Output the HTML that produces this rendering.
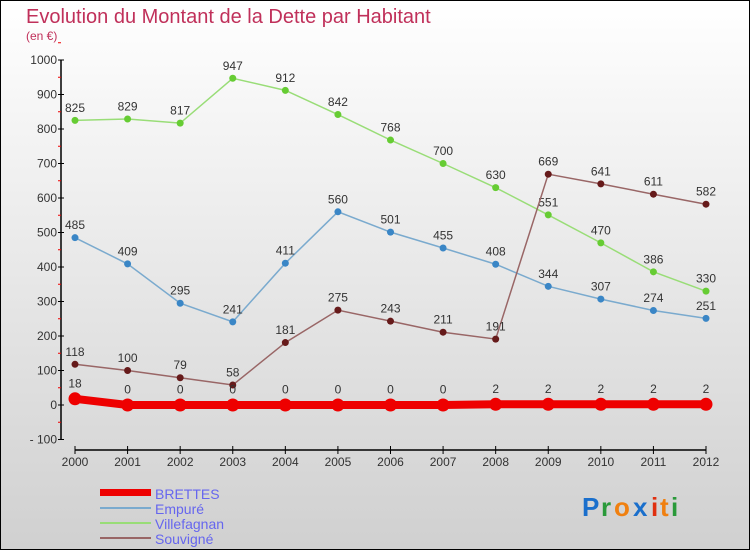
<!DOCTYPE html>
<html><head><meta charset="utf-8"><style>
body{margin:0;}
#c{width:750px;height:550px;position:relative;overflow:hidden;}
svg text{font-family:"Liberation Sans",sans-serif;}
</style></head><body>
<div id="c">
<svg id="s" width="750" height="550" xmlns="http://www.w3.org/2000/svg">
<defs><linearGradient id="bg" x1="0" y1="0" x2="0" y2="1"><stop offset="0" stop-color="#ffffff"/><stop offset="1" stop-color="#d0d0d0"/></linearGradient></defs>
<rect x="0.5" y="0.5" width="749" height="549" fill="url(#bg)" stroke="#000"/>
<text x="26" y="23" font-size="20" fill="#c0305a">Evolution du Montant de la Dette par Habitant</text>
<text x="26" y="40" font-size="12" fill="#c0305a">(en €)</text>
<g id="axes"></g>
<g id="series"></g>
<g>
<rect x="100" y="489" width="51" height="7" fill="#ee0000"/>
<text x="155" y="499" font-size="14" fill="#6666ee">BRETTES</text>
<line x1="100" y1="508" x2="151" y2="508" stroke="#7aaace" stroke-width="2"/>
<text x="155" y="514" font-size="14" fill="#6666ee">Empuré</text>
<line x1="100" y1="523" x2="151" y2="523" stroke="#99dd77" stroke-width="2"/>
<text x="155" y="529" font-size="14" fill="#6666ee">Villefagnan</text>
<line x1="100" y1="538" x2="151" y2="538" stroke="#996666" stroke-width="2"/>
<text x="155" y="544" font-size="14" fill="#6666ee">Souvigné</text>
</g>
<g font-size="26" font-weight="bold">
<text x="582" y="516" fill="#1a6fcc">P</text><text x="601" y="516" fill="#2a9a3a">r</text><text x="614" y="516" fill="#f08010">o</text><text x="633" y="516" fill="#1a6fcc">x</text><text x="651" y="516" fill="#e03010">i</text><text x="660" y="516" fill="#f08010">t</text><text x="671" y="516" fill="#2a9a3a">i</text>
</g>
</svg>
</div>
<script>
const years=[2000,2001,2002,2003,2004,2005,2006,2007,2008,2009,2010,2011,2012];
const yTicks=[-100,0,100,200,300,400,500,600,700,800,900,1000];
const brettes=[18,0,0,0,0,0,0,0,2,2,2,2,2];
const empure=[485,409,295,241,411,560,501,455,408,344,307,274,251];
const villefagnan=[825,829,817,947,912,842,768,700,630,551,470,386,330];
const souvigne=[118,100,79,58,181,275,243,211,191,669,641,611,582];
const NS="http://www.w3.org/2000/svg";
function X(i){return 75+i*(706-75)/(years.length-1);}
function Y(v){return 405-v*0.345;}
function mk(p,t,a){const e=document.createElementNS(NS,t);for(const k in a)e.setAttribute(k,a[k]);p.appendChild(e);return e;}
const ax=document.getElementById('axes');
let l=mk(ax,'line',{x1:61,y1:Y(1000),x2:61,y2:Y(-100),stroke:'#000','stroke-width':1.5});


yTicks.forEach(v=>{
 mk(ax,'line',{x1:58,y1:Y(v),x2:64,y2:Y(v),stroke:'#000'});
 mk(ax,'line',{x1:58,y1:Y(v+50),x2:61,y2:Y(v+50),stroke:'#e00'});
 const t=mk(ax,'text',{x:57,y:Y(v)+4,'font-size':12,fill:'#333','text-anchor':'end'});
 t.textContent=v<0?'- '+(-v):v;
 
 
});
l=mk(ax,'line',{x1:75,y1:450,x2:706,y2:450,stroke:'#000','stroke-width':1.5});


years.forEach((yr,i)=>{
 mk(ax,'line',{x1:X(i),y1:446,x2:X(i),y2:454,stroke:'#000'});
 const t=mk(ax,'text',{x:X(i),y:466,'font-size':12,fill:'#333','text-anchor':'middle'});
 t.textContent=yr;
 
 
});
const sg=document.getElementById('series');
function draw(name,data,color,dot,w,r,labelColor){
 const g=mk(sg,'g',{});
 
 
 mk(g,'polyline',{points:data.map((v,i)=>X(i)+','+Y(v)).join(' '),fill:'none',stroke:color,'stroke-width':w});
 data.forEach((v,i)=>{
  const c=mk(g,'circle',{cx:X(i),cy:Y(v),r:r,fill:dot});
  
  
  const t=mk(g,'text',{x:X(i),y:Y(v)-(r+5),'font-size':12,fill:'#333','text-anchor':'middle'});
  t.textContent=v;
  
  
 });
}
draw('empure',empure,'#7aaace','#3a86c6',1.5,3.5);
draw('villefagnan',villefagnan,'#99dd77','#66cc33',1.5,3.5);
draw('souvigne',souvigne,'#996666','#661a1a',1.5,3.5);
draw('brettes',brettes,'#ee0000','#ee0000',8,6.5);
</script>
</body></html>
